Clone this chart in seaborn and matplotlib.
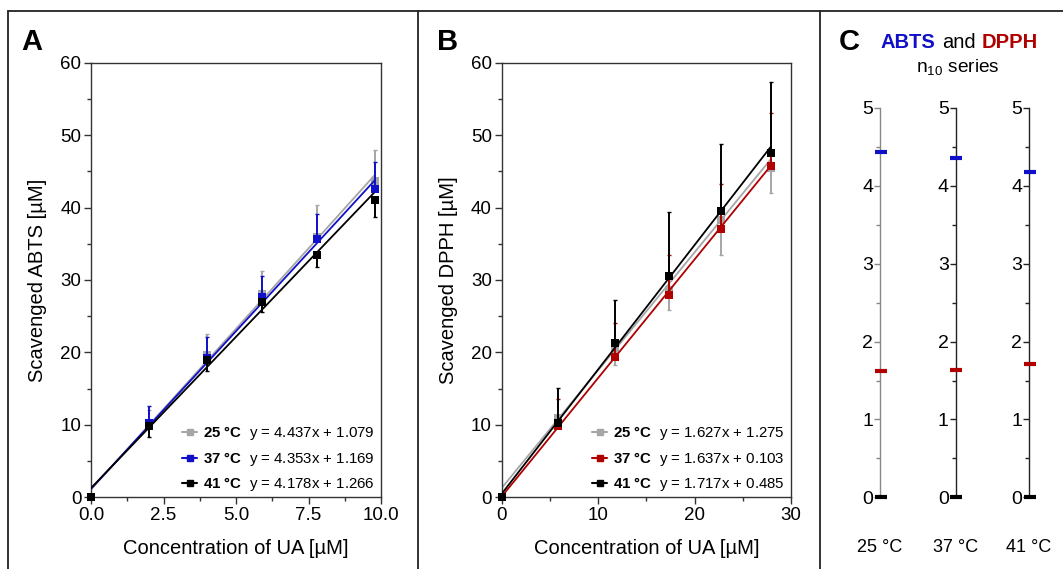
import numpy as np
import pandas as pd
import matplotlib
matplotlib.use("Agg")
import matplotlib.pyplot as plt
import seaborn as sns
from matplotlib.lines import Line2D
from matplotlib.ticker import MultipleLocator

sns.set_theme(style="ticks")
plt.rcParams['font.family'] = ['Liberation Sans', 'DejaVu Sans']
plt.rcParams['mathtext.fontset'] = 'custom'
plt.rcParams['mathtext.rm'] = 'Liberation Sans'
plt.rcParams['mathtext.it'] = 'Liberation Sans:italic'
plt.rcParams['mathtext.bf'] = 'Liberation Sans:bold'
plt.rcParams['text.color'] = 'black'
plt.rcParams['axes.labelcolor'] = 'black'
plt.rcParams['xtick.color'] = 'black'
plt.rcParams['ytick.color'] = 'black'

# Datos
temps = ["25 °C", "37 °C", "41 °C"]

abts_x = [0, 2.0, 4.0, 5.9, 7.8, 9.8]
abts_25 = [0, 10.3, 19.6, 28.0, 36.0, 43.6]
abts_25_sd = [0, 1.8, 2.9, 3.2, 4.3, 4.3]
abts_37 = [0, 10.2, 19.3, 27.6, 35.6, 42.6]
abts_37_sd = [0, 2.4, 2.8, 3.0, 3.5, 3.7]
abts_41 = [0, 9.8, 18.9, 27.0, 33.4, 41.1]
abts_41_sd = [0, 1.5, 1.5, 1.4, 1.6, 2.4]
abts_slope = [4.437, 4.353, 4.178]
abts_icpt = [1.079, 1.169, 1.266]

dpph_x = [0, 5.87, 11.75, 17.3, 22.7, 27.9]
dpph_25 = [0, 11.0, 20.5, 28.6, 38.3, 45.4]
dpph_25_sd = [0, 1.0, 2.2, 2.7, 4.8, 3.4]
dpph_37 = [0, 9.8, 19.4, 27.9, 37.1, 45.8]
dpph_37_sd = [0, 3.8, 4.6, 5.5, 6.1, 7.2]
dpph_41 = [0, 10.3, 21.3, 30.5, 39.5, 47.5]
dpph_41_sd = [0, 4.8, 6.0, 8.9, 9.3, 9.8]
dpph_slope = [1.627, 1.637, 1.717]
dpph_icpt = [1.275, 0.103, 0.485]

n10_abts = abts_slope
n10_dpph = dpph_slope
n10_zero = [0, 0, 0]

GRAY = "#a6a6a6"
BLUE = "#1010c8"
RED = "#b00000"
BLACK = "#000000"

W, H = 1063, 569
fig = plt.figure(figsize=(W / 100, H / 100), dpi=100)


def px(x0, y0, x1, y1):
    return [x0 / W, 1 - y1 / H, (x1 - x0) / W, (y1 - y0) / H]


def panel(ax, xs, series, sds, sides, slopes, icpts, colors, xmax, xmajor, xminor, ylabel, fmt):
    # orden de dibujo: 25, 41, 37
    for i in [0, 2, 1]:
        xe = np.array([0, xs[-1]])
        df = pd.DataFrame({"x": xe, "y": slopes[i] * xe + icpts[i]})
        sns.lineplot(data=df, x="x", y="y", color=colors[i], lw=1.3, ax=ax, zorder=2 + i)
        sd = np.array(sds[i])
        # barras de error de un solo lado (como en la figura)
        yerr = [np.zeros_like(sd), sd] if sides[i] > 0 else [sd, np.zeros_like(sd)]
        ax.errorbar(xs, series[i], yerr=yerr, fmt="none", ecolor=colors[i],
                    elinewidth=1.4, capsize=1.5, capthick=1.0, zorder=2 + i, clip_on=False)
        sns.scatterplot(x=xs, y=series[i], marker="s", s=34, color=colors[i],
                        edgecolor=colors[i], linewidth=0, ax=ax, zorder=3 + i, clip_on=False)
    ax.set_xlim(0, xmax)
    ax.set_ylim(0, 60)
    ax.xaxis.set_major_locator(MultipleLocator(xmajor))
    ax.xaxis.set_minor_locator(MultipleLocator(xminor))
    ax.yaxis.set_major_locator(MultipleLocator(10))
    ax.yaxis.set_minor_locator(MultipleLocator(5))
    ax.xaxis.set_major_formatter(fmt)
    ax.tick_params(which="major", length=5, width=1, labelsize=13.5, pad=2, color="#333333")
    ax.tick_params(which="minor", length=3, width=1, color="#333333")
    for s in ax.spines.values():
        s.set_color("#333333")
        s.set_linewidth(1.0)
    ax.set_xlabel("Concentration of UA [µM]", fontsize=14.5)
    ax.set_ylabel(ylabel, fontsize=14.5)
    ax.xaxis.set_label_coords(0.5, -0.095)
    ax.yaxis.set_label_coords(-0.15, 0.5)
    handles = [Line2D([], [], color=c, marker="s", markersize=5, lw=1.5) for c in colors]
    labels = [r"$\mathbf{%s}$  y = %.3fx + %.3f" % (t.replace(" ", r"\ "), s, b)
              for t, s, b in zip(temps, slopes, icpts)]
    ax.legend(handles, labels, loc="lower right", frameon=False, fontsize=10.8,
              handlelength=1.0, handletextpad=0.4, labelspacing=0.5,
              borderaxespad=0.0, bbox_to_anchor=(1.0, -0.005))


axA = fig.add_axes(px(91, 62.7, 381, 497.3))
panel(axA, abts_x, [abts_25, abts_37, abts_41], [abts_25_sd, abts_37_sd, abts_41_sd], [1, 1, -1],
      abts_slope, abts_icpt, [GRAY, BLUE, BLACK], 10, 2.5, 1.25,
      "Scavenged ABTS [µM]", plt.FormatStrFormatter("%.1f"))

axB = fig.add_axes(px(501.7, 62.7, 791, 497.3))
panel(axB, dpph_x, [dpph_25, dpph_37, dpph_41], [dpph_25_sd, dpph_37_sd, dpph_41_sd], [-1, 1, 1],
      dpph_slope, dpph_icpt, [GRAY, RED, BLACK], 30, 10, 5,
      "Scavenged DPPH [µM]", plt.FormatStrFormatter("%d"))

# Panel C: pendientes n10
spine_x = [880, 955.7, 1029]
spine_col = ["#888888", "#222222", "#222222"]
for i, t in enumerate(temps):
    ax = fig.add_axes(px(spine_x[i], 108, spine_x[i] + 20, 497.3))
    ax.set_facecolor("none")
    for val, col in [(n10_abts[i], BLUE), (n10_dpph[i], RED), (n10_zero[i], BLACK)]:
        sns.scatterplot(x=[0.03], y=[val], marker="_", s=72, linewidth=3.0, color=col,
                        ax=ax, clip_on=False, zorder=5)
    ax.set_xlim(0, 1)
    ax.set_ylim(0, 5)
    ax.yaxis.set_major_locator(MultipleLocator(1))
    ax.yaxis.set_minor_locator(MultipleLocator(0.5))
    for k in ["top", "right", "bottom"]:
        ax.spines[k].set_visible(False)
    ax.spines["left"].set_color(spine_col[i])
    ax.spines["left"].set_linewidth(1.0)
    ax.tick_params(axis="y", which="major", length=4, width=1, labelsize=14, pad=1, color=spine_col[i])
    ax.tick_params(axis="y", which="minor", length=3, width=1, color=spine_col[i])
    ax.set_xticks([0])
    ax.set_xticklabels([t])
    ax.tick_params(axis="x", length=0, labelsize=13, pad=30)
    ax.set_xlabel("")
    ax.set_ylabel("")

# Letras y titulo del panel C
fig.text(21 / W, 1 - 50 / H, "A", fontsize=21, fontweight="bold", va="baseline")
fig.text(437 / W, 1 - 50 / H, "B", fontsize=21, fontweight="bold", va="baseline")
fig.text(839 / W, 1 - 50 / H, "C", fontsize=21, fontweight="bold", va="baseline")
fig.text(935 / W, 1 - 48 / H, "ABTS", fontsize=14.5, fontweight="bold", color=BLUE, ha="right", va="baseline")
fig.text(958.7 / W, 1 - 48 / H, "and", fontsize=14.5, color=BLACK, ha="center", va="baseline")
fig.text(981.7 / W, 1 - 48 / H, "DPPH", fontsize=14.5, fontweight="bold", color=RED, ha="left", va="baseline")
fig.text(958 / W, 1 - 72 / H, r"n$_{10}$ series", fontsize=13.8, ha="center", va="baseline")

# Marco
frame = dict(color="#222222", lw=1.3, transform=fig.transFigure)
fig.add_artist(Line2D([8 / W, 1], [1 - 11 / H] * 2, **frame))
fig.add_artist(Line2D([8 / W] * 2, [0, 1 - 11 / H], **frame))
fig.add_artist(Line2D([418 / W] * 2, [0, 1 - 11 / H], **frame))
fig.add_artist(Line2D([820 / W] * 2, [0, 1 - 11 / H], **frame))

fig.savefig("out.png", dpi=100)
